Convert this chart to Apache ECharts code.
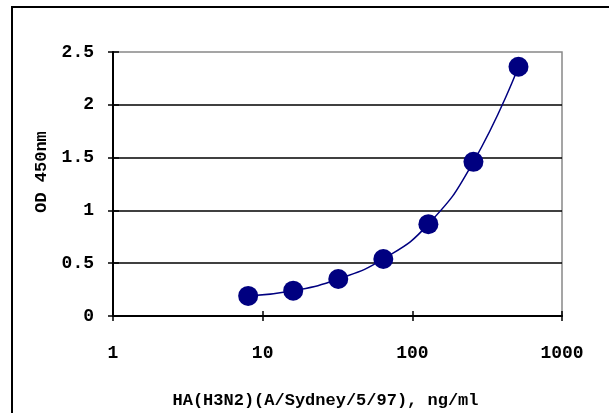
<!DOCTYPE html>
<html>
<head>
<meta charset="utf-8">
<script src="https://cdn.jsdelivr.net/npm/echarts@6/dist/echarts.min.js"></script>
<style>html,body{margin:0;padding:0;background:#fff}#c{width:609px;height:413px}</style>
</head>
<body>
<div id="c"></div>
<script>
var concentrations = [8, 16, 32, 64, 128, 256, 512];
var odValues = [0.19, 0.24, 0.35, 0.54, 0.87, 1.46, 2.36];
var xTicks = [1, 10, 100, 1000];
var yTicks = [0, 0.5, 1, 1.5, 2, 2.5];

var FONT = '"Liberation Mono", "DejaVu Sans Mono", monospace';
var chart = echarts.init(document.getElementById('c'));
var pts = concentrations.map(function (c, i) { return [c, odValues[i]]; });

chart.setOption({
  animation: false,
  graphic: [{
    type: 'rect', shape: { x: 12, y: 7, width: 640, height: 440 },
    style: { fill: 'none', stroke: '#000', lineWidth: 2 }, z: 100
  }],
  grid: { left: 113, top: 52, width: 449, height: 264, show: true, borderColor: '#888', borderWidth: 1.5,
    outerBoundsMode: 'none', containLabel: false },
  xAxis: [{
    type: 'log', logBase: 10, min: 1, max: 1000,
    name: 'HA(H3N2)(A/Sydney/5/97), ng/ml', nameLocation: 'middle', nameGap: 76,
    nameTextStyle: { fontFamily: FONT, fontWeight: 'bold', fontSize: 17, color: '#000', padding: [0, 24, 0, 0] },
    axisLine: { lineStyle: { color: '#000', width: 2 } },
    axisTick: { show: true, length: 5, lineStyle: { color: '#000', width: 1.5 } },
    axisLabel: { fontFamily: FONT, fontWeight: 'bold', fontSize: 18, color: '#000', margin: 28,
      formatter: function (v) { return String(Math.round(v)); } },
    splitLine: { show: false }, minorTick: { show: false }
  }, {
    type: 'log', logBase: 10, min: 1, max: 1000, position: 'bottom',
    axisLine: { show: false },
    axisTick: { show: true, inside: true, length: 5, lineStyle: { color: '#000', width: 1.5 } },
    axisLabel: { show: false }, splitLine: { show: false }
  }],
  yAxis: [{
    type: 'value', min: 0, max: 2.5, interval: 0.5,
    name: 'OD 450nm', nameLocation: 'middle', nameGap: 62, nameRotate: 90,
    nameTextStyle: { fontFamily: FONT, fontWeight: 'bold', fontSize: 17, color: '#000', padding: [0, 0, 0, 24] },
    axisLine: { show: true, lineStyle: { color: '#000', width: 2 } },
    axisTick: { show: true, length: 5, lineStyle: { color: '#000', width: 1.5 } },
    axisLabel: { fontFamily: FONT, fontWeight: 'bold', fontSize: 18, color: '#000', margin: 19,
      formatter: function (v) { return v === 0 ? '0' : (Number.isInteger(v) ? String(v) : v.toFixed(1)); } },
    splitLine: { show: true, showMinLine: false, showMaxLine: false, lineStyle: { color: '#000', width: 1.5 } }
  }, {
    type: 'value', min: 0, max: 2.5, interval: 0.5, position: 'left',
    axisLine: { show: false },
    axisTick: { show: true, inside: true, length: 6, lineStyle: { color: '#000', width: 1.5 } },
    axisLabel: { show: false }, splitLine: { show: false }
  }],
  series: [{
    type: 'line', data: pts, smooth: true,
    symbol: 'circle', symbolSize: 20,
    itemStyle: { color: '#000080' },
    lineStyle: { color: '#000080', width: 1.5 },
    z: 10
  }]
});
</script>
</body>
</html>
